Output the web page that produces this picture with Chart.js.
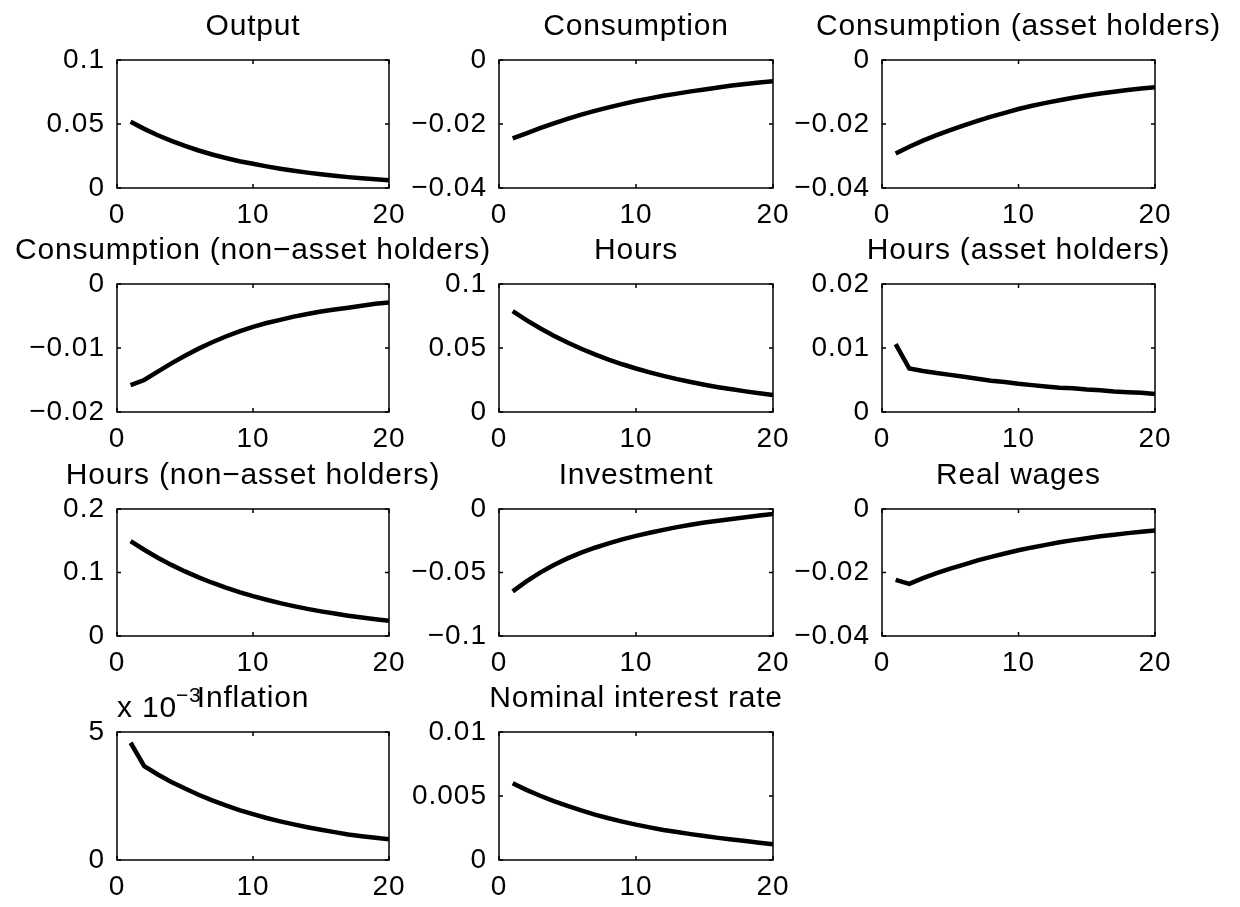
<!DOCTYPE html>
<html>
<head>
<meta charset="utf-8">
<script src="https://cdn.jsdelivr.net/npm/chart.js@4.4.0/dist/chart.umd.min.js"></script>
<style>
  html, body { margin: 0; padding: 0; background: #fff; }
  #fig { position: relative; width: 1240px; height: 907px; overflow: hidden; }
  #fig canvas { position: absolute; }
</style>
</head>
<body>
<div id="fig"></div>
<script>
const periods = [1, 2, 3, 4, 5, 6, 7, 8, 9, 10, 11, 12, 13, 14, 15, 16, 17, 18, 19, 20];
const xTicks = [0, 10, 20];

const output = [0.0518, 0.0462, 0.0412, 0.0368, 0.0329, 0.0293, 0.0262, 0.0234, 0.0209, 0.0189,
  0.0169, 0.0151, 0.0135, 0.0120, 0.0107, 0.0096, 0.0085, 0.0076, 0.0068, 0.0061];
const consumption = [-0.0245, -0.0229, -0.0213, -0.0198, -0.0184, -0.0171, -0.0159, -0.0148, -0.0138, -0.0128,
  -0.0120, -0.0112, -0.0105, -0.0098, -0.0092, -0.0086, -0.0080, -0.0075, -0.0070, -0.0066];
const consumptionAsset = [-0.0292, -0.0271, -0.0252, -0.0235, -0.0219, -0.0204, -0.0190, -0.0177, -0.0165, -0.0153,
  -0.0143, -0.0134, -0.0126, -0.0118, -0.0111, -0.0105, -0.0099, -0.0094, -0.0089, -0.0085];
const consumptionNonAsset = [-0.0158, -0.0150, -0.0137, -0.0124, -0.0112, -0.0101, -0.0091, -0.0082, -0.0074, -0.0067,
  -0.0061, -0.0056, -0.0051, -0.0047, -0.0043, -0.0040, -0.0037, -0.0034, -0.0031, -0.0029];
const hours = [0.0789, 0.0718, 0.0654, 0.0596, 0.0543, 0.0494, 0.0450, 0.0410, 0.0373, 0.0340,
  0.0310, 0.0282, 0.0257, 0.0234, 0.0213, 0.0194, 0.0177, 0.0161, 0.0146, 0.0133];
const hoursAsset = [0.0106, 0.0068, 0.0064, 0.0061, 0.0058, 0.0055, 0.0052, 0.0049, 0.0047, 0.0044,
  0.0042, 0.0040, 0.0038, 0.0037, 0.0035, 0.0034, 0.0032, 0.0031, 0.0030, 0.0028];
const hoursNonAsset = [0.1495, 0.1358, 0.1233, 0.1120, 0.1017, 0.0924, 0.0839, 0.0762, 0.0692, 0.0628,
  0.0571, 0.0518, 0.0471, 0.0427, 0.0388, 0.0353, 0.0320, 0.0291, 0.0264, 0.0240];
const investment = [-0.0649, -0.0570, -0.0501, -0.0441, -0.0389, -0.0344, -0.0305, -0.0270, -0.0239, -0.0212,
  -0.0187, -0.0164, -0.0143, -0.0124, -0.0107, -0.0092, -0.0078, -0.0065, -0.0052, -0.0040];
const realWages = [-0.0223, -0.0236, -0.0218, -0.0202, -0.0188, -0.0175, -0.0162, -0.0151, -0.0140, -0.0130,
  -0.0121, -0.0113, -0.0105, -0.0098, -0.0092, -0.0086, -0.0081, -0.0076, -0.0072, -0.0068];
const inflation = [0.00458, 0.00367, 0.00334, 0.00305, 0.00279, 0.00255, 0.00233, 0.00213, 0.00195, 0.00179,
  0.00164, 0.00151, 0.00139, 0.00128, 0.00118, 0.00109, 0.00100, 0.00093, 0.00087, 0.00081];
const nominalRate = [0.00599, 0.00548, 0.00502, 0.00460, 0.00422, 0.00387, 0.00355, 0.00326, 0.00300, 0.00276,
  0.00255, 0.00235, 0.00218, 0.00202, 0.00187, 0.00173, 0.00160, 0.00148, 0.00135, 0.00123];

const titles = ["Output", "Consumption", "Consumption (asset holders)",
  "Consumption (non\u2212asset holders)", "Hours", "Hours (asset holders)",
  "Hours (non\u2212asset holders)", "Investment", "Real wages",
  "Inflation", "Nominal interest rate"];
const series = [output, consumption, consumptionAsset, consumptionNonAsset, hours, hoursAsset,
  hoursNonAsset, investment, realWages, inflation, nominalRate];
const yTicks = [
  [0, 0.05, 0.1], [-0.04, -0.02, 0], [-0.04, -0.02, 0],
  [-0.02, -0.01, 0], [0, 0.05, 0.1], [0, 0.01, 0.02],
  [0, 0.1, 0.2], [-0.1, -0.05, 0], [-0.04, -0.02, 0],
  [0, 0.005], [0, 0.005, 0.01]];
const yScaleExp = [0, 0, 0, 0, 0, 0, 0, 0, 0, -3, 0];

// axes boxes in page pixels
const colX = [[117, 389], [499, 773], [882, 1155]];
const rowY = [[60, 188], [284, 412], [509, 636], [732, 860]];
const M = { left: 120, right: 120, top: 60, bottom: 50 };

const FONT = "'Liberation Sans', Arial, Helvetica, sans-serif";
Chart.defaults.font.family = FONT;
Chart.defaults.color = "#000";

function fmtTick(v, exp) {
  let n = exp ? v / Math.pow(10, exp) : v;
  n = Math.round(n * 1e6) / 1e6;
  return String(n).replace("-", "\u2212");
}

const axesBox = {
  id: "axesBox",
  beforeDraw(chart) {
    chart.ctx.letterSpacing = "1px";
  },
  afterDraw(chart, args, opts) {
    const { ctx, chartArea: a, scales } = chart;
    const tl = 4;
    ctx.save();
    ctx.letterSpacing = "0px";
    ctx.strokeStyle = "#000";
    ctx.lineWidth = 1.5;
    ctx.beginPath();
    scales.x.ticks.forEach((t) => {
      const px = scales.x.getPixelForValue(t.value);
      ctx.moveTo(px, a.bottom); ctx.lineTo(px, a.bottom - tl);
      ctx.moveTo(px, a.top); ctx.lineTo(px, a.top + tl);
    });
    scales.y.ticks.forEach((t) => {
      const py = scales.y.getPixelForValue(t.value);
      ctx.moveTo(a.left, py); ctx.lineTo(a.left + tl, py);
      ctx.moveTo(a.right, py); ctx.lineTo(a.right - tl, py);
    });
    ctx.stroke();
    ctx.strokeRect(a.left, a.top, a.right - a.left, a.bottom - a.top);

    ctx.fillStyle = "#000";
    ctx.letterSpacing = "0.8px";
    if (opts.exp) {
      ctx.font = "30px " + FONT;
      ctx.textAlign = "left";
      ctx.textBaseline = "alphabetic";
      const base = "x 10";
      ctx.fillText(base, a.left, a.top - 15);
      const w = ctx.measureText(base).width;
      ctx.font = "21px " + FONT;
      ctx.fillText("\u2212" + String(-opts.exp), a.left + w - 1, a.top - 30);
    }
    ctx.font = "30px " + FONT;
    ctx.textAlign = "center";
    ctx.textBaseline = "alphabetic";
    ctx.fillText(opts.text, (a.left + a.right) / 2, a.top - 25);
    ctx.restore();
  },
};

const fig = document.getElementById("fig");

series.forEach((values, i) => {
  const [x0, x1] = colX[i % 3];
  const [y0, y1] = rowY[Math.floor(i / 3)];
  const canvas = document.createElement("canvas");
  const w = x1 - x0 + M.left + M.right;
  const h = y1 - y0 + M.top + M.bottom;
  canvas.width = w;
  canvas.height = h;
  canvas.style.left = (x0 - M.left) + "px";
  canvas.style.top = (y0 - M.top) + "px";
  canvas.style.width = w + "px";
  canvas.style.height = h + "px";
  fig.appendChild(canvas);

  const ticksY = yTicks[i];
  const exp = yScaleExp[i];

  new Chart(canvas, {
    type: "line",
    data: {
      datasets: [{
        data: periods.map((p, k) => ({ x: p, y: values[k] })),
        borderColor: "#000",
        borderWidth: 4.5,
        borderCapStyle: "butt",
        pointRadius: 0,
        tension: 0,
        clip: 0,
      }],
    },
    options: {
      responsive: false,
      animation: false,
      devicePixelRatio: 1,
      events: [],
      layout: { padding: { left: 0, right: M.right, top: M.top, bottom: 0 } },
      plugins: {
        legend: { display: false },
        tooltip: { enabled: false },
        axesBox: { text: titles[i], exp: exp },
      },
      scales: {
        x: {
          type: "linear",
          min: xTicks[0],
          max: xTicks[xTicks.length - 1],
          afterBuildTicks: (s) => { s.ticks = xTicks.map((v) => ({ value: v })); },
          afterFit: (s) => { s.height = M.bottom; },
          grid: { display: false, drawTicks: false },
          border: { display: false },
          ticks: { padding: 10, maxRotation: 0, autoSkip: false, font: { size: 28 }, color: "#000",
            callback: (v) => String(v) },
        },
        y: {
          type: "linear",
          min: ticksY[0],
          max: exp ? 0.005 : ticksY[ticksY.length - 1],
          afterBuildTicks: (s) => { s.ticks = ticksY.map((v) => ({ value: v })); },
          afterFit: (s) => { s.width = M.left; },
          grid: { display: false, drawTicks: false },
          border: { display: false },
          ticks: { padding: 12, autoSkip: false, font: { size: 28 }, color: "#000",
            callback: (v) => fmtTick(v, exp) },
        },
      },
    },
    plugins: [axesBox],
  });
});
</script>
</body>
</html>
